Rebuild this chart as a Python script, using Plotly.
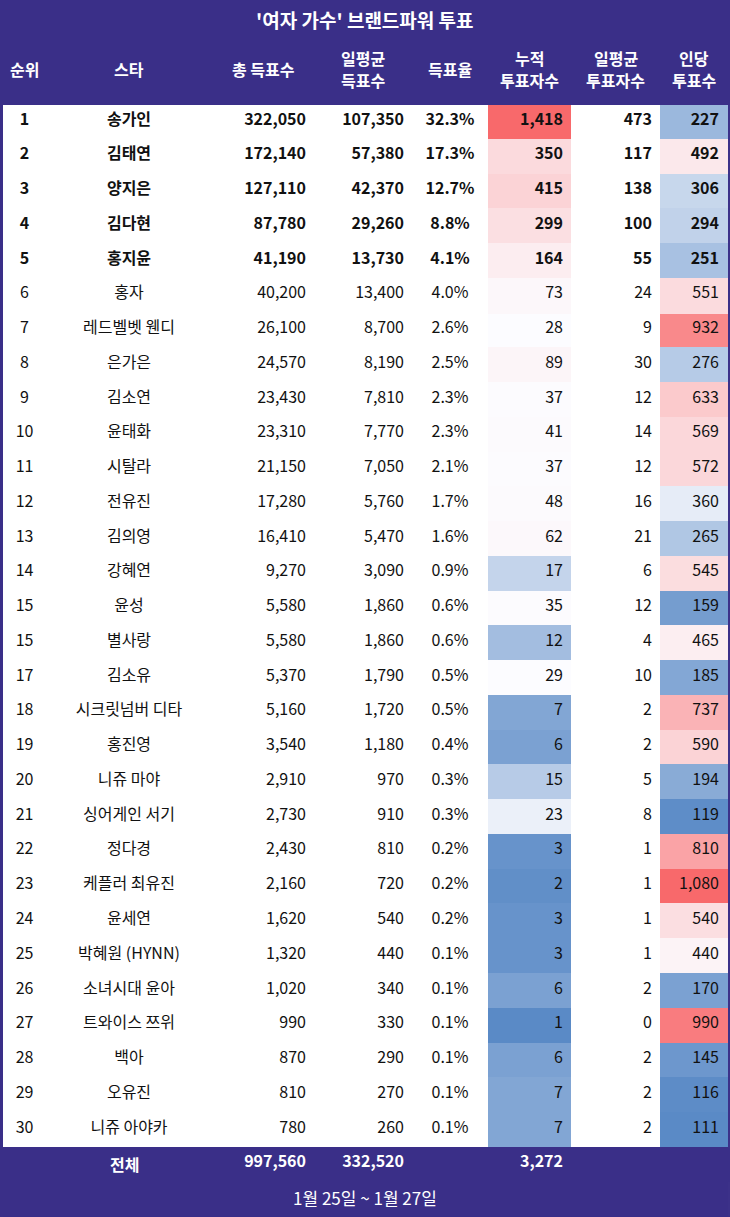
import plotly.graph_objects as go
from plotly.colors import sample_colorscale
import numpy as np

PURPLE = "#3A2F88"
FONT = "Noto Sans CJK KR"

title = "'여자 가수' 브랜드파워 투표"
period = "1월 25일 ~ 1월 27일"
headers = [["순위"], ["스타"], ["총 득표수"], ["일평균", "득표수"], ["득표율"],
           ["누적", "투표자수"], ["일평균", "투표자수"], ["인당", "투표수"]]

ranks = [1, 2, 3, 4, 5, 6, 7, 8, 9, 10, 11, 12, 13, 14, 15,
         15, 17, 18, 19, 20, 21, 22, 23, 24, 25, 26, 27, 28, 29, 30]
stars = ["송가인", "김태연", "양지은", "김다현", "홍지윤", "홍자", "레드벨벳 웬디",
         "은가은", "김소연", "윤태화", "시탈라", "전유진", "김의영", "강혜연", "윤성",
         "별사랑", "김소유", "시크릿넘버 디타", "홍진영", "니쥬 마야", "싱어게인 서기",
         "정다경", "케플러 최유진", "윤세연", "박혜원 (HYNN)", "소녀시대 윤아",
         "트와이스 쯔위", "백아", "오유진", "니쥬 아야카"]
total_votes = [322050, 172140, 127110, 87780, 41190, 40200, 26100, 24570, 23430, 23310,
               21150, 17280, 16410, 9270, 5580, 5580, 5370, 5160, 3540, 2910,
               2730, 2430, 2160, 1620, 1320, 1020, 990, 870, 810, 780]
daily_votes = [107350, 57380, 42370, 29260, 13730, 13400, 8700, 8190, 7810, 7770,
               7050, 5760, 5470, 3090, 1860, 1860, 1790, 1720, 1180, 970,
               910, 810, 720, 540, 440, 340, 330, 290, 270, 260]
vote_share = [32.3, 17.3, 12.7, 8.8, 4.1, 4.0, 2.6, 2.5, 2.3, 2.3,
              2.1, 1.7, 1.6, 0.9, 0.6, 0.6, 0.5, 0.5, 0.4, 0.3,
              0.3, 0.2, 0.2, 0.2, 0.1, 0.1, 0.1, 0.1, 0.1, 0.1]
voters = [1418, 350, 415, 299, 164, 73, 28, 89, 37, 41, 37, 48, 62, 17, 35,
          12, 29, 7, 6, 15, 23, 3, 2, 3, 3, 6, 1, 6, 7, 7]
daily_voters = [473, 117, 138, 100, 55, 24, 9, 30, 12, 14, 12, 16, 21, 6, 12,
                4, 10, 2, 2, 5, 8, 1, 1, 1, 1, 2, 0, 2, 2, 2]
per_voter = [227, 492, 306, 294, 251, 551, 932, 276, 633, 569, 572, 360, 265, 545, 159,
             465, 185, 737, 590, 194, 119, 810, 1080, 540, 440, 170, 990, 145, 116, 111]
total_label = "전체"
total_votes_sum = 997560
daily_votes_sum = 332520
voters_sum = 3272

# geometry (px)
W, H = 730, 1217
X0 = 3
col_w = [43, 166, 102, 98, 76, 83, 89, 67]
TABLE_TOP = 38.5
HEAD_H = 66
ROW_H = 34.76
N_BOLD = 5  # top five rows are set in bold

ALIGN = ["center", "center", "right", "right", "center", "right", "right", "right"]
INK = "#111111"

# excel-style 3 colour scale: blue (min) - white (median) - red (max)
SCALE = [[0, "#5A8AC6"], [0.5, "#FCFCFF"], [1, "#F8696B"]]


def scale_colors(vals):
    lo, hi, mid = min(vals), max(vals), float(np.percentile(vals, 50))
    pos = [0.5 * (v - lo) / (mid - lo) if v <= mid else 0.5 + 0.5 * (v - mid) / (hi - mid)
           for v in vals]
    return sample_colorscale(SCALE, pos)


n = len(ranks)
cols = [
    [str(r) for r in ranks],
    list(stars),
    [f"{v:,}" for v in total_votes],
    [f"{v:,}" for v in daily_votes],
    [f"{v:.1f}%" for v in vote_share],
    [f"{v:,}" for v in voters],
    [f"{v:,}" for v in daily_voters],
    [f"{v:,}" for v in per_voter],
]
white = ["#FFFFFF"] * n
fills = [white, white, white, white, white,
         scale_colors(voters), white, scale_colors(per_voter)]


def ypx(px):
    return 1 - px / H


def font(weight, color=INK):
    return dict(family=FONT, size=16, color=color, weight=weight)


def table(header, values, fill, top_px, bottom_px, weight, color=INK):
    # plotly tables always have a header row; the first row of each block is used as it
    return go.Table(
        domain=dict(x=[X0 / W, (X0 + sum(col_w)) / W], y=[max(ypx(bottom_px), 0), ypx(top_px)]),
        columnwidth=col_w, header=header,
        cells=dict(values=values, height=ROW_H, align=ALIGN,
                   fill_color=fill, line=dict(color=fill, width=1), font=font(weight, color)),
    )


fig = go.Figure()

# header band + top five (bold)
head = dict(values=[""] * 8, height=HEAD_H, fill_color=PURPLE, line=dict(color=PURPLE, width=1))
y1 = TABLE_TOP + HEAD_H + N_BOLD * ROW_H
fig.add_trace(table(head, [c[:N_BOLD] for c in cols], [f[:N_BOLD] for f in fills],
                    TABLE_TOP, y1 + 2, "bold"))

# remaining rows (regular weight)
k = N_BOLD
row6 = dict(values=[c[k] for c in cols], height=ROW_H, align=ALIGN,
            fill_color=[f[k] for f in fills], line=dict(color=[f[k] for f in fills], width=1),
            font=font("normal"))
y2 = TABLE_TOP + HEAD_H + n * ROW_H
fig.add_trace(table(row6, [c[k + 1:] for c in cols], [f[k + 1:] for f in fills],
                    y1, y2 + 2, "normal"))

# total row
tot_vals = ["", "", f"{total_votes_sum:,}", f"{daily_votes_sum:,}", "", f"{voters_sum:,}", "", ""]
tot_head = dict(values=tot_vals, height=ROW_H, align=ALIGN, fill_color=PURPLE,
                line=dict(color=PURPLE, width=1), font=font("bold", "#FFFFFF"))
fig.add_trace(table(tot_head, [[""]] * 8, [[PURPLE]] * 8, y2, H, "normal", "#FFFFFF"))

# column labels, vertically centred in the header band (two-line labels 22px apart)
edges = np.cumsum([X0] + col_w)
centers = (edges[:-1] + edges[1:]) / 2
mid_y = TABLE_TOP + HEAD_H / 2 - 2
for lines, cx in zip(headers, centers):
    offs = [0] if len(lines) == 1 else [-11.5, 10.5]
    for txt, dy in zip(lines, offs):
        fig.add_annotation(x=cx / W, y=ypx(mid_y + dy), xref="paper", yref="paper",
                           text=f"<b>{txt}</b>", showarrow=False, xanchor="center", yanchor="middle",
                           font=dict(family=FONT, size=16, color="white"))

fig.add_annotation(x=0.5, y=ypx(19), xref="paper", yref="paper", text=f"<b>{title}</b>",
                   showarrow=False, yanchor="middle", font=dict(family=FONT, size=19, color="white"))

# "전체" spans the rank + star columns
fig.add_annotation(x=(edges[0] + edges[2]) / 2 / W, y=ypx(y2 + ROW_H / 2 - 1), xref="paper", yref="paper",
                   text=f"<b>{total_label}</b>", showarrow=False, yanchor="middle",
                   font=dict(family=FONT, size=16, color="white"))

fig.add_annotation(x=0.5, y=ypx(1197), xref="paper", yref="paper", text=period,
                   showarrow=False, yanchor="middle", font=dict(family=FONT, size=17, color="white"))

fig.update_layout(width=W, height=H, margin=dict(l=0, r=0, t=0, b=0),
                  paper_bgcolor=PURPLE, plot_bgcolor=PURPLE, font=dict(family=FONT))
fig.write_html("out.html", config={"displayModeBar": False},
               post_script="document.body.style.margin='0';document.body.style.overflow='hidden';")
